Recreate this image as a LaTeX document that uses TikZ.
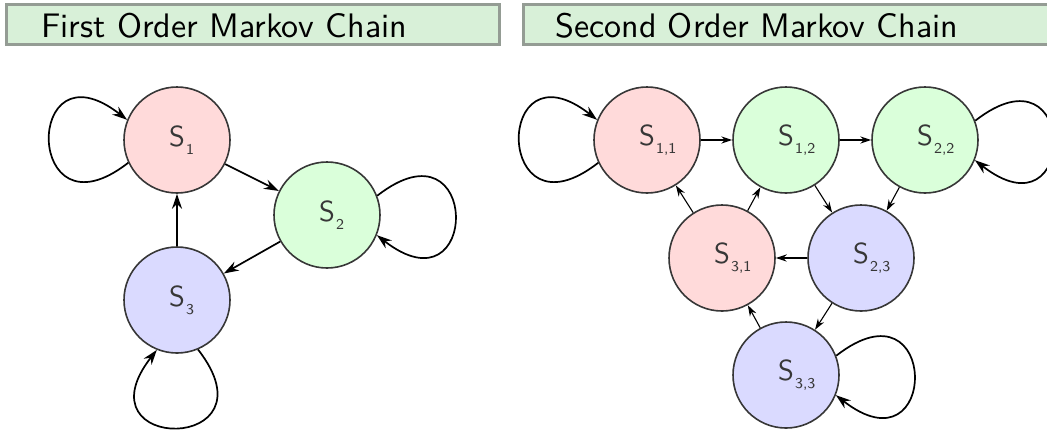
\documentclass[tikz,border=0pt]{standalone}
\usetikzlibrary{arrows.meta}
\definecolor{boxfill}{RGB}{216,240,216}
\definecolor{boxline}{RGB}{148,156,148}
\definecolor{nred}{RGB}{255,218,218}
\definecolor{ngreen}{RGB}{218,255,218}
\definecolor{nblue}{RGB}{218,218,255}
\definecolor{txt}{RGB}{55,55,55}
\newcommand\stname[1]{S\rlap{\kern0.6pt\raisebox{-4pt}{\fontsize{7.5}{8}\selectfont #1}}}
\newcommand\titletxt[1]{\scalebox{1.7}{\fontsize{10}{12}\selectfont #1}}
\begin{document}
\begin{tikzpicture}[x=0.5pt,y=-0.5pt,
  titlebox/.style={draw=boxline, fill=boxfill, line width=1.5pt},
  titletext/.style={anchor=base west, inner sep=0pt, font=\sffamily},
  state/.style={circle, draw=txt, line width=0.8pt, minimum size=53pt, inner sep=0pt, text=txt,
                font=\sffamily\fontsize{14.5}{17}\selectfont},
  redst/.style={state, fill=nred},
  greenst/.style={state, fill=ngreen},
  bluest/.style={state, fill=nblue},
  bigarrow/.style={line width=0.85pt, -{Stealth[length=7.5pt,width=5pt,inset=2.5pt]}},
  smallarrow/.style={line width=0.55pt, -{Stealth[length=5.5pt,width=3.6pt,inset=1.8pt]}},
]
\useasboundingbox (0,0) rectangle (1047,435);
\clip (0,0) rectangle (1047,435);

% title boxes
\draw[titlebox] (6,4) rectangle (499,44);
\draw[titlebox] (523,4) rectangle (1070,44);
\node[titletext] (t1) at (41,37) {\titletxt{First Order Markov Chain}};
\node[titletext] (t2) at (555,37) {\titletxt{Second Order Markov Chain}};

% first order chain
\node[redst]   (s1) at (177,140) {\stname{1}};
\node[greenst] (s2) at (327,215) {\stname{2}};
\node[bluest]  (s3) at (177,300) {\stname{3}};

\draw[bigarrow] (s1) -- (s2);
\draw[bigarrow] (s2) -- (s3);
\draw[bigarrow] (s3) -- (s1);
\draw[bigarrow] (s1.205) .. controls +(218:66pt) and +(142:66pt) .. (s1.158);
\draw[bigarrow] (s2.21) .. controls +(38:66pt) and +(-38:66pt) .. (s2.-22);
\draw[bigarrow] (s3.293) .. controls +(308:66pt) and +(232:66pt) .. (s3.248);

% second order chain
\node[redst]   (s11) at (647,140) {\stname{1,1}};
\node[greenst] (s12) at (786,140) {\stname{1,2}};
\node[greenst] (s22) at (925,140) {\stname{2,2}};
\node[redst]   (s31) at (722,258) {\stname{3,1}};
\node[bluest]  (s23) at (861,258) {\stname{2,3}};
\node[bluest]  (s33) at (786,375) {\stname{3,3}};

\draw[smallarrow] (s11) -- (s12);
\draw[smallarrow] (s12) -- (s22);
\draw[smallarrow] (s12) -- (s23);
\draw[smallarrow] (s22) -- (s23);
\draw[smallarrow] (s23) -- (s31);
\draw[smallarrow] (s31) -- (s11);
\draw[smallarrow] (s31) -- (s12);
\draw[smallarrow] (s23) -- (s33);
\draw[smallarrow] (s33) -- (s31);
\draw[bigarrow] (s11.205) .. controls +(218:66pt) and +(142:66pt) .. (s11.158);
\draw[bigarrow] (s22.21) .. controls +(38:66pt) and +(-38:66pt) .. (s22.-22);
\draw[bigarrow] (s33.21) .. controls +(38:66pt) and +(-38:66pt) .. (s33.-22);
\end{tikzpicture}
\end{document}
